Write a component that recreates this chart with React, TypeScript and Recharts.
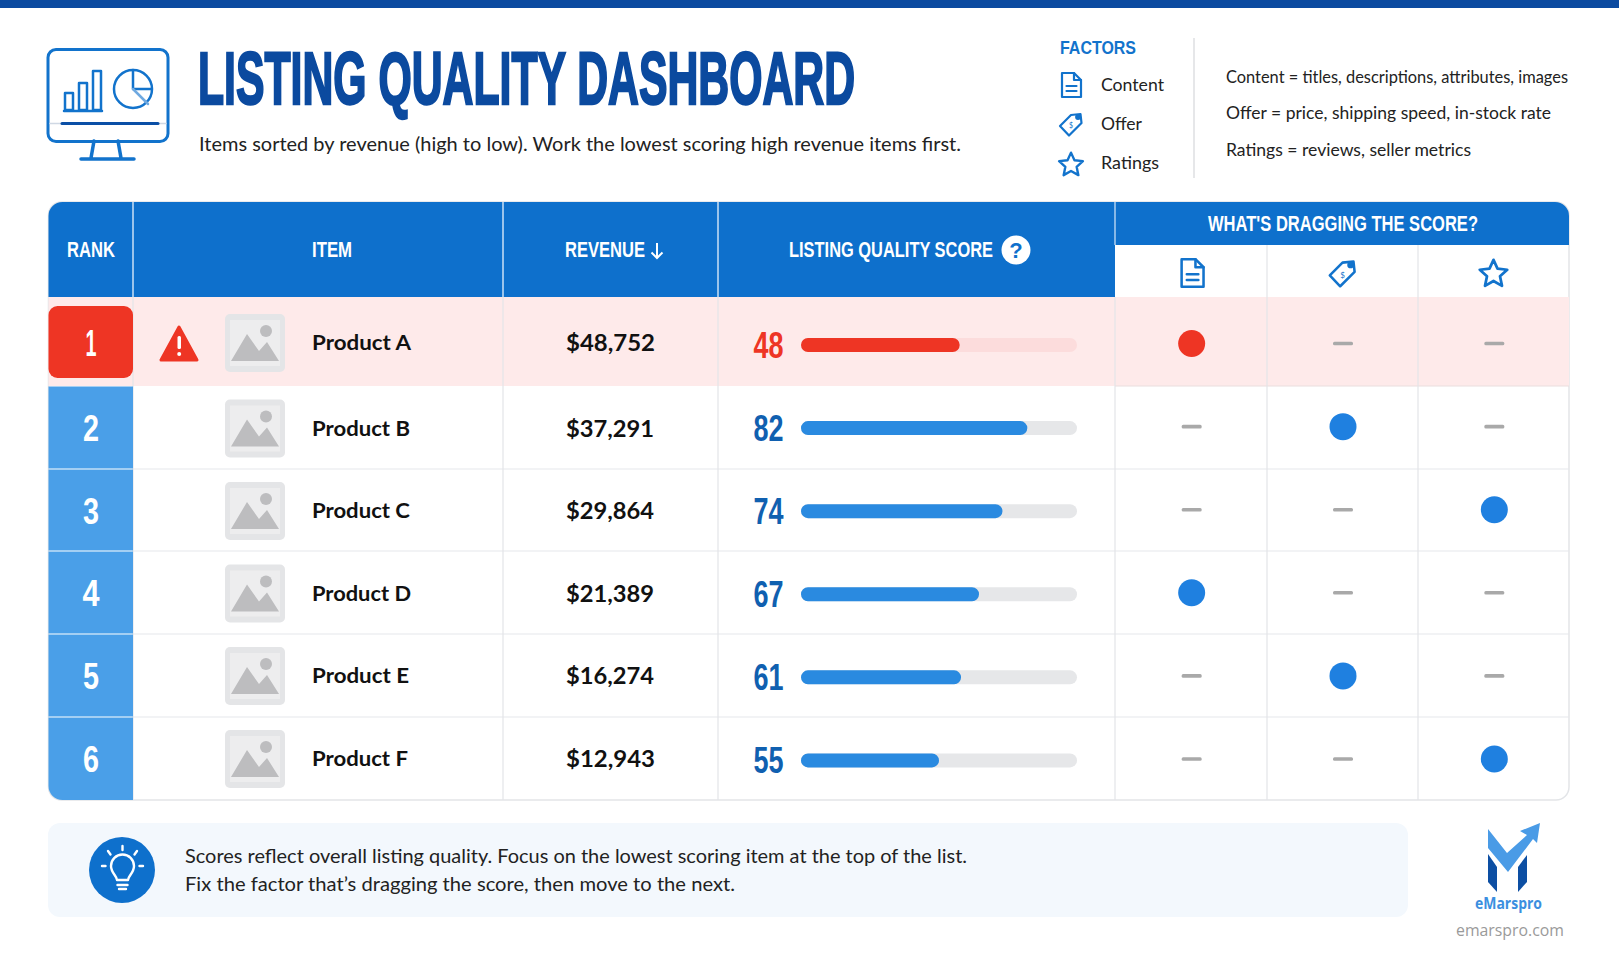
import React from 'react';
import { BarChart, Bar, Cell, XAxis, YAxis, ScatterChart, Scatter } from 'recharts';

const ranks = ['1', '2', '3', '4', '5', '6'];
const rankWidths = [11, 16, 16, 17, 16, 16];
const items = ['Product A', 'Product B', 'Product C', 'Product D', 'Product E', 'Product F'];
const revenues = ['$48,752', '$37,291', '$29,864', '$21,389', '$16,274', '$12,943'];
const scores = ['48', '82', '74', '67', '61', '55'];
// Drawn bar lengths (percent of the track).
const barLengths = [57.5, 82, 73, 64.5, 58, 50];
const factors = ['Content', 'Offer', 'Ratings'];
const draggingFactor = ['Content', 'Offer', 'Ratings', 'Content', 'Offer', 'Ratings'];
const factorNotes = [
  'Content = titles, descriptions, attributes, images',
  'Offer = price, shipping speed, in-stock rate',
  'Ratings = reviews, seller metrics',
];

const RED = '#ee3524';
const BLUE = '#1273cc';
const NARROW = '"Liberation Sans", sans-serif';
const BODY = 'Lato, "Open Sans", sans-serif';

const rowEdges = [297, 386, 469, 551, 634, 717, 800];
const rowCentres = [343, 428.5, 511, 593.5, 676, 759];
const colEdges = [133, 503, 718, 1115, 1267, 1418];

const scoreRows = items.map((item, i) => ({ item, score: scores[i], length: barLengths[i] }));
const cells = items.flatMap((item, r) =>
  factors.map((f, c) => ({ col: c, row: r, flagged: draggingFactor[r] === f })),
);
const redDots = cells.filter((d) => d.flagged && d.row === 0);
const blueDots = cells.filter((d) => d.flagged && d.row !== 0);
const dashes = cells.filter((d) => !d.flagged);

function T({ x, y, w, size, family = BODY, weight = 400, fill = '#222', anchor = 'start', bold = 0, children }: any) {
  const fit = w ? { textLength: w, lengthAdjust: 'spacingAndGlyphs' } : {};
  const thick = bold ? { stroke: fill, strokeWidth: bold } : {};
  return (
    <text x={x} y={y} fontSize={size} fontFamily={family} fontWeight={weight} fill={fill} textAnchor={anchor} {...thick} {...fit}>
      {children}
    </text>
  );
}

// Tall condensed headline text: a small font stretched vertically about its baseline.
function Tall({ x, y, w, size, stretch, fill = '#fff', bold = 0, children }: any) {
  const thick = bold ? { stroke: fill, strokeWidth: bold } : {};
  return (
    <text
      transform={`translate(${x},${y}) scale(1,${stretch})`}
      fontSize={size / stretch}
      fontFamily={NARROW}
      fontWeight={700}
      fill={fill}
      textLength={w}
      lengthAdjust="spacingAndGlyphs"
      {...thick}
    >
      {children}
    </text>
  );
}

function Doc({ cx, cy, h, color = BLUE }: any) {
  const s = h / 26;
  return (
    <g transform={`translate(${cx - 11 * s},${cy - 13 * s}) scale(${s})`} fill="none" stroke={color} strokeWidth={2.2} strokeLinejoin="round" strokeLinecap="round">
      <path d="M2 1h12l7 7v17H2z" />
      <path d="M14 1v7h7" />
      <path d="M6.5 14h10M6.5 19h10" />
    </g>
  );
}

function Tag({ cx, cy, h, color = BLUE }: any) {
  const s = h / 26;
  return (
    <g transform={`translate(${cx - 13 * s},${cy - 13 * s}) scale(${s})`} fill="none" stroke={color} strokeWidth={2.2} strokeLinejoin="round" strokeLinecap="round">
      <path d="M2 15 L13 4 L22.5 3 L23.5 12 L11 24.5 Z" />
      <circle cx={20} cy={6} r={1.8} fill={color} />
      <text x={11} y={17} fontSize={7} fill={color} stroke="none" fontFamily={BODY}>$</text>
    </g>
  );
}

function Star({ cx, cy, h, color = BLUE }: any) {
  const s = h / 24;
  return (
    <g transform={`translate(${cx - 12 * s},${cy - 12 * s}) scale(${s})`} fill="none" stroke={color} strokeWidth={2.2} strokeLinejoin="round">
      <path d="M12 1.500l3.200 7 7.800.9-5.800 5.200 1.600 7.700L12 18.400l-6.800 3.900 1.600-7.700L1 9.400l7.800-.9z" />
    </g>
  );
}

const Icons = [Doc, Tag, Star];

function Thumb({ cy }: any) {
  const x = 225;
  const y = cy - 29;
  return (
    <g>
      <rect x={x} y={y} width={60} height={58} rx={5} fill="#e4e5e7" />
      <rect x={x + 5} y={y + 6} width={50} height={46} fill="#ededee" />
      <circle cx={x + 41} cy={y + 17} r={6} fill="#bdbdbf" />
      <path d={`M${x + 6} ${y + 47} L${x + 22} ${y + 20} L${x + 34} ${y + 37} L${x + 42} ${y + 28} L${x + 54} ${y + 47} Z`} fill="#bdbdbf" />
    </g>
  );
}

function Monitor() {
  return (
    <g fill="none" stroke={BLUE} strokeWidth={3} strokeLinejoin="round" strokeLinecap="round">
      <rect x={48} y={49.5} width={120} height={92} rx={8} />
      <path d="M50 123.500H166" stroke="#cfd8e4" strokeWidth={1.5} />
      <path d="M62 123.500H158" stroke="#0b4fa6" strokeWidth={3} />
      <path d="M94 141 L91 158 M118 141 L121 158 M81 159H134" strokeWidth={3.5} />
      <g strokeWidth={2.5}>
        <rect x={65} y={93} width={8} height={17} />
        <rect x={79} y={83} width={8} height={27} />
        <rect x={93} y={71} width={8} height={39} />
        <path d="M64 111H102" />
      </g>
      <circle cx={133} cy={89} r={19} strokeWidth={2.5} />
      <path d="M133 70V89L151 89" strokeWidth={2.5} />
      <path d="M133 89L148 104" strokeWidth={2.5} stroke="#6fa9e0" />
    </g>
  );
}

function Bulb() {
  return (
    <g fill="none" stroke="#fff" strokeWidth={2.4} strokeLinecap="round" strokeLinejoin="round">
      <path d="M117 880c0-4-6-7-6-14a11.500 11.500 0 0 1 23 0c0 7-6 10-6 14z" />
      <path d="M117.500 885H127.500M119 889H126" />
      <path d="M122.500 846V850M108 851L110.500 854.500M137 851L134.500 854.500M102 866H105.500M139.500 866H143" />
    </g>
  );
}

function Backdrop() {
  return (
    <svg width={1619} height={971} style={{ position: 'absolute', left: 0, top: 0 }}>
      <rect x={0} y={0} width={1619} height={8} fill="#0b4aa0" />
      <Monitor />
      <Tall x={198} y={104} w={657} size={74} stretch={1.85} fill="#0b4a9f" bold={1.3}>LISTING QUALITY DASHBOARD</Tall>
      <T x={199} y={151} w={762} size={19.5}>Items sorted by revenue (high to low). Work the lowest scoring high revenue items first.</T>

      <Tall x={1060} y={54} w={76} size={19} stretch={1.15} fill={BLUE}>FACTORS</Tall>
      <Doc cx={1071} cy={85} h={26} />
      <Tag cx={1071} cy={124} h={26} />
      <Star cx={1071} cy={164} h={26} />
      <T x={1101} y={91} w={63} size={18}>{factors[0]}</T>
      <T x={1101} y={130} w={41} size={18}>{factors[1]}</T>
      <T x={1101} y={169} w={58} size={18}>{factors[2]}</T>
      <line x1={1194} y1={38} x2={1194} y2={178} stroke="#dedfe2" strokeWidth={1.5} />
      <T x={1226} y={83} w={342} size={16.5}>{factorNotes[0]}</T>
      <T x={1226} y={119} w={325} size={16.5}>{factorNotes[1]}</T>
      <T x={1226} y={156} w={245} size={16.5}>{factorNotes[2]}</T>

      {/* table frame */}
      <rect x={48.5} y={202} width={1520.5} height={598} rx={13} fill="#fff" stroke="#e3e5e8" strokeWidth={1.5} />
      <path d="M48.5 297V216a14 14 0 0 1 14-14H1555a14 14 0 0 1 14 14V245H1115V297Z" fill="#0e70cc" />
      <rect x={48.5} y={297} width={1520.5} height={89} fill="#feeaea" />
      {rowEdges.slice(2, 6).map((y) => (
        <line key={y} x1={133} y1={y} x2={1569} y2={y} stroke="#e6e8eb" strokeWidth={1.2} />
      ))}
      <line x1={1115} y1={386} x2={1569} y2={386} stroke="#e9dede" strokeWidth={1.2} />
      {colEdges.map((x, i) => (
        <line key={x} x1={x} y1={i < 4 ? 297 : 245} x2={x} y2={800} stroke="#e3e5e8" strokeWidth={1.2} />
      ))}
      {colEdges.slice(0, 3).map((x) => (
        <line key={x} x1={x} y1={202} x2={x} y2={297} stroke="#d8e8f8" strokeWidth={1.4} />
      ))}
      <line x1={1115} y1={202} x2={1115} y2={245} stroke="#d8e8f8" strokeWidth={1.2} />

      <Tall x={67} y={257} w={48} size={22} stretch={1.35}>RANK</Tall>
      <Tall x={312} y={257} w={40} size={22} stretch={1.1}>ITEM</Tall>
      <Tall x={565} y={257} w={80} size={22} stretch={1.4}>REVENUE</Tall>
      <path d="M657 243V258M651.500 252.500L657 258L662.500 252.500" fill="none" stroke="#fff" strokeWidth={2} />
      <Tall x={789} y={257} w={204} size={22} stretch={1.42}>LISTING QUALITY SCORE</Tall>
      <circle cx={1016} cy={250} r={14.5} fill="#fff" />
      <T x={1016} y={258} size={22} family={NARROW} weight={700} fill="#0e70cc" anchor="middle">?</T>
      <Tall x={1208} y={231} w={270} size={22} stretch={1.35}>WHAT'S DRAGGING THE SCORE?</Tall>
      {Icons.map((Icon, i) => (
        <Icon key={i} cx={[1192, 1342.5, 1493.5][i]} cy={273} h={30} />
      ))}

      {/* rank column */}
      <rect x={48.5} y={306} width={84.5} height={72} rx={9} fill={RED} />
      {rowEdges.slice(1, 6).map((y, i) => (
        <path
          key={y}
          d={
            i === 4
              ? `M48.5 ${y + 0.6}H133V800H62.500a14 14 0 0 1-14-14Z`
              : `M48.5 ${y + 0.6}H133V${rowEdges[i + 2] - 0.6}H48.5Z`
          }
          fill="#4a9fe8"
        />
      ))}
      {ranks.map((r, i) => (
        <T key={r} x={91} y={rowCentres[i] + 12.5} w={rankWidths[i]} size={36} family={NARROW} weight={700} fill="#fff" anchor="middle">{r}</T>
      ))}

      {/* warning */}
      <path d="M179 327L197 360H161Z" fill={RED} stroke={RED} strokeWidth={3} strokeLinejoin="round" />
      <rect x={177.500} y={336} width={3.5} height={13} rx={1.5} fill="#fff" />
      <circle cx={179.200} cy={354} r={2} fill="#fff" />

      {items.map((it, i) => (
        <g key={it}>
          <Thumb cy={rowCentres[i]} />
          <T x={312} y={rowCentres[i] + 7} w={[99, 98, 98, 99, 97, 96][i]} size={21} weight={700} fill="#111">{it}</T>
          <T x={566} y={rowCentres[i] + 8} w={[89, 88, 88, 88, 88, 89][i]} size={23} weight={700} fill="#111">{revenues[i]}</T>
        </g>
      ))}

      {/* footer */}
      <rect x={48} y={823} width={1360} height={94} rx={12} fill="#f3f8fd" />
      <circle cx={122} cy={870} r={33} fill="#0e70cc" />
      <Bulb />
      <T x={185} y={863} w={782} size={19}>Scores reflect overall listing quality. Focus on the lowest scoring item at the top of the list.</T>
      <T x={185} y={891} w={550} size={19}>Fix the factor that’s dragging the score, then move to the next.</T>

      {/* logo */}
      <polygon points="1488,854 1497,867 1497,892 1488,882" fill="#0d4fa3" />
      <polygon points="1527,855 1518,867 1518,892 1527,882" fill="#0d4fa3" />
      <polygon points="1488,829 1507,853 1527,835 1520,831 1540,823 1537,843 1533,839 1508,872 1488,848" fill="#4a9be6" />
      <T x={1475} y={909} w={67} size={15.5} family='"Open Sans", sans-serif' weight={700} fill="#3b8fe0">eMarspro</T>
      <T x={1456} y={936} w={108} size={16.5} family='"Open Sans", sans-serif' fill="#9a9a9a">emarspro.com</T>
    </svg>
  );
}

function ScoreTick({ x, y, payload, index }: any) {
  return (
    <text
      x={x - 39.5}
      y={y + 13.5}
      textLength={30}
      lengthAdjust="spacingAndGlyphs"
      fontSize={36}
      fontWeight={700}
      fontFamily={NARROW}
      fill={index === 0 ? RED : '#1060b0'}
    >
      {payload.value}
    </text>
  );
}

function Track(props: any) {
  const { x, y, width, height, index } = props;
  return <rect x={x} y={y} width={width} height={height} rx={height / 2} fill={index === 0 ? '#fcdcdc' : '#e6e7e9'} />;
}

const Dot = (color: string) => (props: any) => <circle cx={props.cx} cy={props.cy} r={13.5} fill={color} />;
const Dash = (props: any) => <rect x={props.cx - 10} y={props.cy - 1.8} width={20} height={3.6} rx={1.5} fill="#a9a9a9" />;

export default function App() {
  return (
    <div style={{ position: 'absolute', left: 0, top: 0, width: 1619, height: 971, background: '#fff', overflow: 'hidden' }}>
      <Backdrop />
      <div style={{ position: 'absolute', left: 718, top: 302.5 }}>
        <BarChart
          width={397}
          height={498.5}
          layout="vertical"
          data={scoreRows}
          barSize={14}
          margin={{ top: 0, right: 38, bottom: 0, left: 0 }}
        >
          <XAxis type="number" domain={[0, 100]} hide />
          <YAxis type="category" dataKey="score" width={83} axisLine={false} tickLine={false} tick={<ScoreTick />} interval={0} />
          <Bar dataKey="length" radius={7} background={<Track />} isAnimationActive={false}>
            {scoreRows.map((r, i) => (
              <Cell key={r.item} fill={i === 0 ? RED : '#2a8ae0'} />
            ))}
          </Bar>
        </BarChart>
      </div>
      <div style={{ position: 'absolute', left: 1116, top: 302 }}>
        <ScatterChart width={454} height={498.5} margin={{ top: 0, right: 0, bottom: 0, left: 0 }}>
          <XAxis type="number" dataKey="col" domain={[-0.5, 2.5]} hide />
          <YAxis type="number" dataKey="row" domain={[-0.5, 5.5]} reversed hide />
          <Scatter data={dashes} shape={Dash} isAnimationActive={false} />
          <Scatter data={blueDots} shape={Dot('#1f80e0')} isAnimationActive={false} />
          <Scatter data={redDots} shape={Dot(RED)} isAnimationActive={false} />
        </ScatterChart>
      </div>
    </div>
  );
}
